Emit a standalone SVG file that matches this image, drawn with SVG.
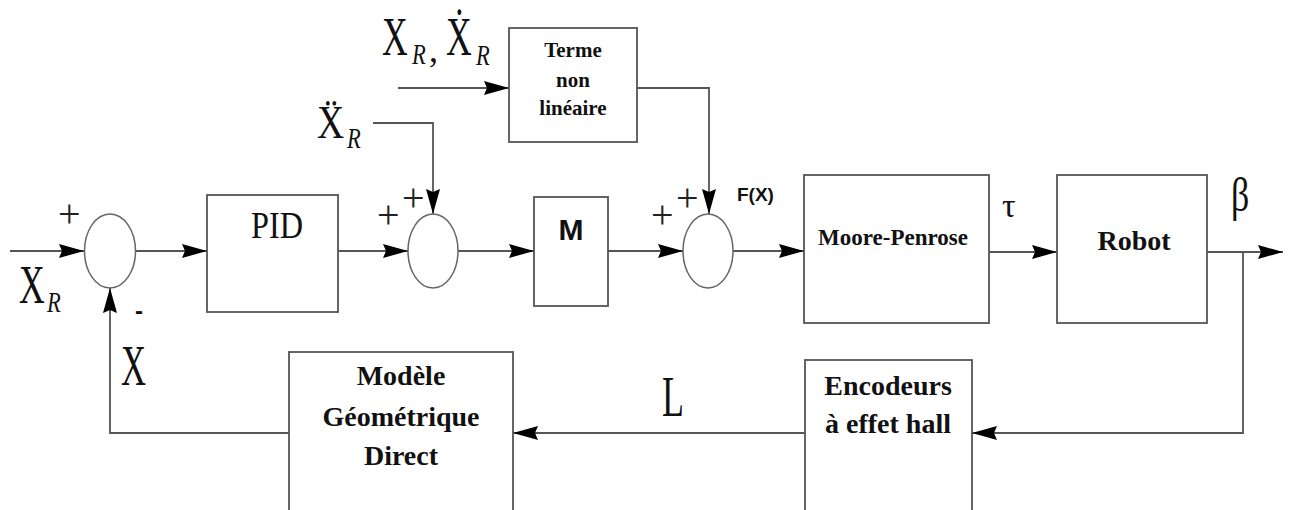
<svg xmlns="http://www.w3.org/2000/svg" width="1290" height="510" viewBox="0 0 1290 510">
<style>
.box{fill:#fff;stroke:#555;stroke-width:1.8}
.sum{fill:#fff;stroke:#666;stroke-width:1.5}
.ln{fill:none;stroke:#555;stroke-width:1.8}
.bt{font-family:"Liberation Serif","DejaVu Serif",serif;font-weight:bold;fill:#111;text-anchor:middle}
.m{font-family:"Liberation Serif","DejaVu Serif",serif;fill:#111}
.mi{font-family:"Liberation Serif","DejaVu Serif",serif;font-style:italic;fill:#111}
.ss{font-family:"Liberation Sans","DejaVu Sans",sans-serif;font-weight:bold;fill:#111}
.pl{font-family:"Liberation Serif","DejaVu Serif",serif;fill:#222;font-size:40px}
</style>
<defs>
<marker id="arr" markerUnits="userSpaceOnUse" markerWidth="27" markerHeight="16" refX="25" refY="7" orient="auto">
<path d="M0,0 L25,7 L0,14 L3,7 z" fill="#000"/>
</marker>
</defs>
<rect width="1290" height="510" fill="#fff"/>

<g id="connectors">
<path class="ln" d="M10,251 H84" marker-end="url(#arr)"/>
<path class="ln" d="M135,251 H207" marker-end="url(#arr)"/>
<path class="ln" d="M338,251 H408" marker-end="url(#arr)"/>
<path class="ln" d="M373,123 H433 V214" marker-end="url(#arr)"/>
<path class="ln" d="M398,88 H509" marker-end="url(#arr)"/>
<path class="ln" d="M637,88 H709 V214" marker-end="url(#arr)"/>
<path class="ln" d="M458,251 H534" marker-end="url(#arr)"/>
<path class="ln" d="M608,251 H683" marker-end="url(#arr)"/>
<path class="ln" d="M733,251 H804" marker-end="url(#arr)"/>
<path class="ln" d="M989,252 H1057" marker-end="url(#arr)"/>
<path class="ln" d="M1207,252 H1283" marker-end="url(#arr)"/>
<path class="ln" d="M1243,252 V433 H972" marker-end="url(#arr)"/>
<path class="ln" d="M805,433 H513" marker-end="url(#arr)"/>
<path class="ln" d="M289,433 H110 V288" marker-end="url(#arr)"/>
</g>

<g id="sum1">
<ellipse class="sum" cx="110" cy="251" rx="25.5" ry="37"/>
<text class="pl" x="58" y="227">+</text>
<text class="ss" x="135" y="319" font-size="24">-</text>
</g>

<g id="pid">
<rect class="box" x="207" y="195" width="131" height="117"/>
<text class="m" text-anchor="middle" transform="translate(277,238) scale(0.85,1)" font-size="38">PID</text>
</g>

<g id="sum2">
<ellipse class="sum" cx="433" cy="251" rx="25" ry="37"/>
<text class="pl" x="377" y="228">+</text>
<text class="pl" x="402" y="211">+</text>
</g>

<g id="m">
<rect class="box" x="534" y="197" width="74" height="109"/>
<text class="ss" x="571" y="240" font-size="30" text-anchor="middle">M</text>
</g>

<g id="sum3">
<ellipse class="sum" cx="708" cy="251" rx="25" ry="37"/>
<text class="pl" x="651" y="228">+</text>
<text class="pl" x="676" y="211">+</text>
<text class="ss" x="737" y="201" font-size="19">F(X)</text>
</g>

<g id="terme">
<rect class="box" x="509" y="28" width="128" height="114"/>
<text class="bt" x="573" y="57" font-size="21">Terme</text>
<text class="bt" x="573" y="87" font-size="21">non</text>
<text class="bt" x="573" y="115" font-size="21">linéaire</text>
</g>

<g id="moore">
<rect class="box" x="804" y="175" width="185" height="148"/>
<text class="bt" x="893" y="245" font-size="23">Moore-Penrose</text>
</g>

<g id="robot">
<rect class="box" x="1057" y="175" width="150" height="148"/>
<text class="bt" x="1134" y="250" font-size="28">Robot</text>
</g>

<g id="modele">
<rect class="box" x="289" y="352" width="224" height="170"/>
<text class="bt" x="401" y="385" font-size="28">Modèle</text>
<text class="bt" x="401" y="426" font-size="28">Géométrique</text>
<text class="bt" x="401" y="465" font-size="28">Direct</text>
</g>

<g id="encodeurs">
<rect class="box" x="805" y="360" width="167" height="162"/>
<text class="bt" x="888" y="395" font-size="28">Encodeurs</text>
<text class="bt" x="888" y="433" font-size="28">à effet hall</text>
</g>

<g id="labels">
<text class="m" transform="translate(19,303) scale(0.66,1)" font-size="54">X</text>
<text class="mi" transform="translate(47,312) scale(0.75,1)" font-size="30">R</text>

<text class="m" transform="translate(382,55) scale(0.66,1)" font-size="54">X</text>
<text class="mi" transform="translate(412,64) scale(0.75,1)" font-size="30">R</text>
<text class="m" x="429" y="62" font-size="36">,</text>
<text class="m" transform="translate(446,55) scale(0.66,1)" font-size="54">Ẋ</text>
<text class="mi" transform="translate(476,65) scale(0.75,1)" font-size="30">R</text>

<text class="m" transform="translate(317,138) scale(0.8,1)" font-size="47">Ẍ</text>
<text class="mi" transform="translate(347,148) scale(0.75,1)" font-size="30">R</text>

<text class="m" transform="translate(121,385) scale(0.62,1)" font-size="56">X</text>
<text class="m" transform="translate(662,416) scale(0.62,1)" font-size="58">L</text>

<text class="m" x="1002" y="217" font-size="34">τ</text>
<text class="m" transform="translate(1231,211) scale(0.75,1)" font-size="48">β</text>
</g>
</svg>
